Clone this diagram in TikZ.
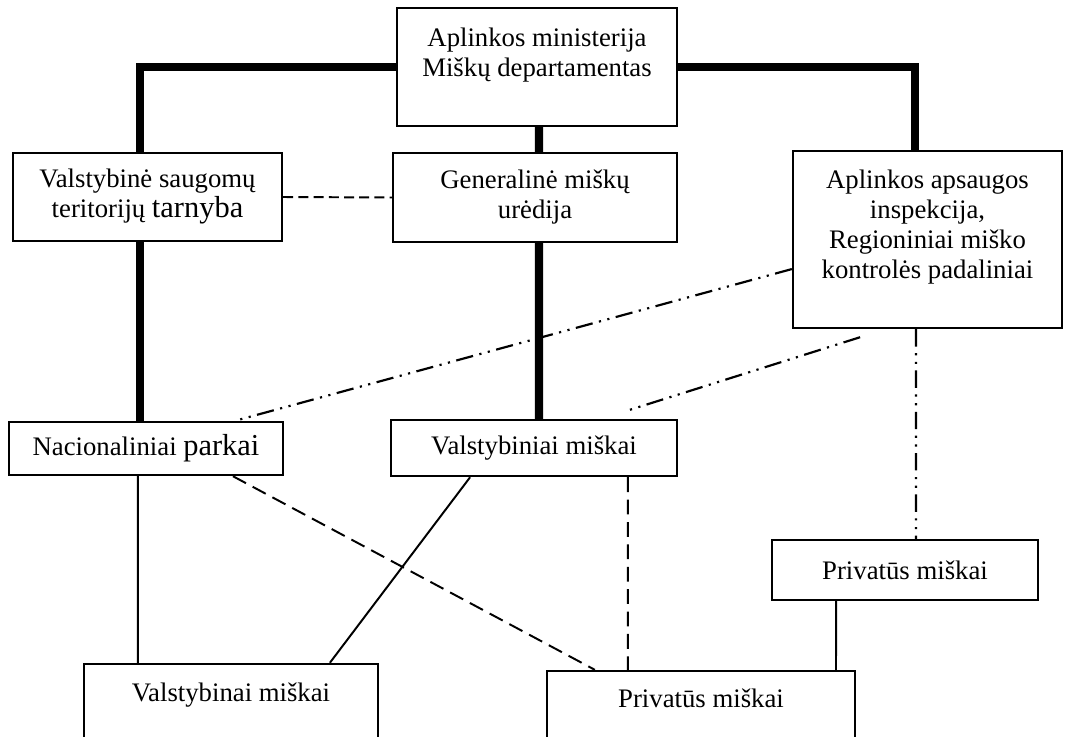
\documentclass[tikz,border=0pt]{standalone}
\usepackage{fontspec}
\setmainfont{Liberation Serif}
\begin{document}
\begin{tikzpicture}[x=0.46pt,y=-0.46pt,
        box/.style={draw,line width=1.1pt,align=center,inner sep=2pt,font=\fontsize{12.3}{13.8}\selectfont},
        main/.style={line width=3.8pt},
        thin/.style={line width=0.9pt},
        dashline/.style={line width=0.9pt,dash pattern=on 4.6pt off 2.4pt},
        longdash/.style={line width=0.9pt,dash pattern=on 6.8pt off 3.5pt},
        dashdotdot/.style={line width=1pt,dash pattern=on 8pt off 3pt on 1pt off 3pt on 1pt off 3pt}]
                \fill[white] (0,0) rectangle (1065,737);
                \useasboundingbox (0,0) rectangle (1065,737);
                \clip (0,0) rectangle (1065,737);
                \node[box,minimum width=128.8pt,minimum height=54.3pt] (min) at (537,67) {Aplinkos ministerija\\Miškų departamentas\\ \mbox{}};
                \node[box,minimum width=123.7pt,minimum height=40.5pt] (saug) at (147.5,197) {Valstybinė saugomų\\teritorijų {\fontsize{14}{14}\selectfont tarnyba}};
                \node[box,minimum width=130.6pt,minimum height=40.9pt] (gen) at (535,197.5) {Generalinė miškų\\urėdija};
                \node[box,minimum width=123.7pt,minimum height=81.4pt] (insp) at (927.5,239.5) {Aplinkos apsaugos\\inspekcija,\\Regioniniai miško\\kontrolės padaliniai\\ \mbox{}};
                \node[box,minimum width=126pt,minimum height=24.4pt] (nac) at (146,448.5) {Nacionaliniai {\fontsize{14}{14}\selectfont parkai}};
                \node[box,minimum width=131.6pt,minimum height=25.8pt] (vm) at (534,448) {Valstybiniai miškai};
                \node[box,minimum width=122.4pt,minimum height=27.6pt] (pm) at (905,570) {Privatūs miškai};
                \node[box,minimum width=135.2pt,minimum height=53.4pt] (bv) at (231,722) {Valstybinai miškai\\ \mbox{}\\ \mbox{}};
                \node[box,minimum width=141.7pt,minimum height=52.4pt] (bp) at (701,728) {Privatūs miškai\\ \mbox{}\\ \mbox{}};
                \draw[main] (min.west) -| ([xshift=-3.45pt]saug.north);
                \draw[main] (min.east) -| ([xshift=-5.8pt]insp.north);
                \draw[main] ([xshift=0.9pt]min.south) -- ([xshift=1.8pt]gen.north);
                \draw[main] ([xshift=1.8pt]gen.south) -- ([xshift=2.3pt]vm.north);
                \draw[main] ([xshift=-3.45pt]saug.south) -- ([xshift=-2.76pt]nac.north);
                \draw[dashline] (saug.east) -- (gen.west);
                \draw[dashdotdot] ([yshift=-13.6pt]insp.west) -- ([xshift=41pt]nac.north);
                \draw[dashdotdot] ([xshift=-31pt,yshift=-3.7pt]insp.south) -- ([xshift=42.8pt,yshift=3.7pt]vm.north);
                \draw[dashdotdot] ([xshift=-5.3pt]insp.south) -- ([xshift=5.06pt]pm.north);
                \draw[thin] ([xshift=-31.7pt]pm.south) -- ([xshift=62.1pt]bp.north);
                \draw[longdash] ([xshift=43.2pt]vm.south) -- ([xshift=-33.6pt]bp.north);
                \draw[longdash] ([xshift=40pt]nac.south) -- ([xshift=-48.8pt]bp.north);
                \draw[thin] ([xshift=-3.7pt]nac.south) -- ([xshift=-42.8pt]bv.north);
                \draw[thin] ([xshift=-29.4pt]vm.south) -- ([xshift=45.5pt]bv.north);
            \end{tikzpicture}
\end{document}
